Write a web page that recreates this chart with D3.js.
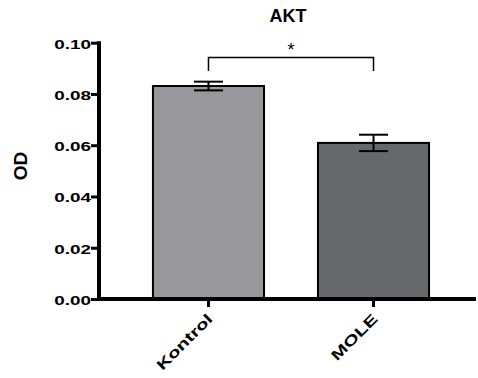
<!DOCTYPE html>
<html>
<head>
<meta charset="utf-8">
<script src="https://cdn.jsdelivr.net/npm/d3@7"></script>
<style>
  body { margin: 0; background: #fff; }
  svg { font-family: Arial, "Liberation Sans", sans-serif; }
</style>
</head>
<body>
<div id="chart"></div>
<script>
// Data
const groups = ["Kontrol", "MOLE"];
const means = [0.0831, 0.0609];
const errors = [0.0017, 0.0032];
const barColors = ["#98989c", "#67686b"];
const yTicks = [0, 0.02, 0.04, 0.06, 0.08, 0.10];

const width = 478, height = 378;

let svg = d3.select("#chart")
    .append("svg")
    .attr("width", width)
    .attr("height", height);

let x = d3.scaleBand()
    .domain(groups)
    .range([97, 485])
    .paddingInner(0.327)
    .paddingOuter(0.339);

let y = d3.scaleLinear()
    .domain([0, 0.10])
    .range([299, 42.7]);

// the labels in the original use a wide font, stretch them
function widen(sel, k) {
    sel.each(function() {
        let len = this.getComputedTextLength();
        d3.select(this)
            .attr("textLength", len * k)
            .attr("lengthAdjust", "spacingAndGlyphs");
    });
}

// Bars
svg.selectAll("rect.bar")
    .data(groups)
    .enter().append("rect")
    .attr("class", "bar")
    .attr("x", d => x(d))
    .attr("y", (d, i) => y(means[i]))
    .attr("width", x.bandwidth())
    .attr("height", (d, i) => y(0) - y(means[i]))
    .attr("fill", (d, i) => barColors[i])
    .attr("stroke", "#000")
    .attr("stroke-width", 2);

// Error bars
const capW = 29;
groups.forEach((g, i) => {
    let cx = x(g) + x.bandwidth() / 2;
    let eb = svg.append("g").attr("stroke", "#000").attr("stroke-width", 2);
    eb.append("line")
        .attr("x1", cx).attr("x2", cx)
        .attr("y1", y(means[i] + errors[i])).attr("y2", y(means[i] - errors[i]));
    [means[i] + errors[i], means[i] - errors[i]].forEach(v => {
        eb.append("line")
            .attr("x1", cx - capW / 2).attr("x2", cx + capW / 2)
            .attr("y1", y(v)).attr("y2", y(v));
    });
});

// X axis
let xAxis = svg.append("g")
    .attr("transform", "translate(0,299)")
    .call(d3.axisBottom(x).tickSize(8).tickPadding(0));
xAxis.select(".domain").remove();
xAxis.append("line")
    .attr("x1", 97).attr("x2", 476)
    .attr("stroke", "#000")
    .attr("stroke-width", 4);
xAxis.selectAll(".tick line")
    .attr("stroke", "#000")
    .attr("stroke-width", 3);
xAxis.selectAll(".tick text")
    .attr("font-size", 14.5)
    .attr("font-weight", "bold")
    .attr("fill", "#000")
    .attr("text-anchor", "end")
    .attr("x", 0).attr("y", 0).attr("dy", 0)
    .attr("transform", "translate(5,21) rotate(-45)")
    .call(widen, 1.4);

// Y axis
let yAxis = svg.append("g")
    .attr("transform", "translate(99,0)")
    .call(d3.axisLeft(y).tickValues(yTicks).tickFormat(d3.format(".2f")).tickSize(8).tickPadding(0));
yAxis.select(".domain").remove();
yAxis.append("line")
    .attr("y1", y(0.10) - 1.5).attr("y2", y(0) + 2)
    .attr("stroke", "#000")
    .attr("stroke-width", 4);
yAxis.selectAll(".tick line")
    .attr("stroke", "#000")
    .attr("stroke-width", 3);
yAxis.selectAll(".tick text")
    .attr("font-size", 13.5)
    .attr("font-weight", "bold")
    .attr("fill", "#000")
    .attr("dy", "0.4em")
    .call(widen, 1.4);

// Y label
svg.append("text")
    .attr("transform", `translate(27,166) rotate(-90)`)
    .attr("text-anchor", "middle")
    .attr("font-size", 19)
    .attr("font-weight", "bold")
    .text("OD");

// Title
svg.append("text")
    .attr("x", 288)
    .attr("y", 22)
    .attr("text-anchor", "middle")
    .attr("font-size", 18)
    .attr("font-weight", "bold")
    .text("AKT");

// Significance bracket
let x1 = x("Kontrol") + x.bandwidth() / 2;
let x2 = x("MOLE") + x.bandwidth() / 2;
svg.append("path")
    .attr("d", `M${x1},71V57.5H${x2}V71`)
    .attr("fill", "none")
    .attr("stroke", "#000")
    .attr("stroke-width", 1.5);
svg.append("text")
    .attr("x", (x1 + x2) / 2)
    .attr("y", 56)
    .attr("text-anchor", "middle")
    .attr("font-size", 18)
    .text("*");
</script>
</body>
</html>
